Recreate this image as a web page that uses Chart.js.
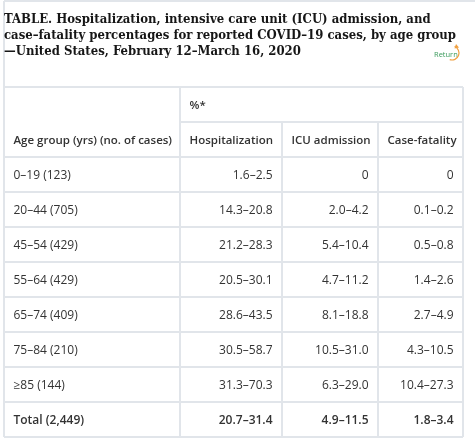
<!DOCTYPE html>
<html>
<head>
<meta charset="utf-8">
<script src="https://cdn.jsdelivr.net/npm/chart.js@4.4.1/dist/chart.umd.min.js"></script>
<style>
  html, body { margin: 0; padding: 0; background: #fff; }
  #wrap { width: 475px; height: 441px; position: relative; }
</style>
</head>
<body>
<div id="wrap"><canvas id="table-chart"></canvas></div>
<script>
const titleLines = [
  "TABLE. Hospitalization, intensive care unit (ICU) admission, and",
  "case\u2013fatality percentages for reported COVID\u201319 cases, by age group",
  "\u2014United States, February 12\u2013March 16, 2020",
];
const groupHeader = "%*";
const firstHeader = "Age group (yrs) (no. of cases)";
const columnHeaders = ["Hospitalization", "ICU admission", "Case-fatality"];

const ageGroups = [
  "0\u201319 (123)",
  "20\u201344 (705)",
  "45\u201354 (429)",
  "55\u201364 (429)",
  "65\u201374 (409)",
  "75\u201384 (210)",
  "\u226585 (144)",
];
const hospitalization = ["1.6\u20132.5", "14.3\u201320.8", "21.2\u201328.3", "20.5\u201330.1", "28.6\u201343.5", "30.5\u201358.7", "31.3\u201370.3"];
const icuAdmission = ["0", "2.0\u20134.2", "5.4\u201310.4", "4.7\u201311.2", "8.1\u201318.8", "10.5\u201331.0", "6.3\u201329.0"];
const caseFatality = ["0", "0.1\u20130.2", "0.5\u20130.8", "1.4\u20132.6", "2.7\u20134.9", "4.3\u201310.5", "10.4\u201327.3"];

const totalLabel = "Total (2,449)";
const totalValues = ["20.7\u201331.4", "4.9\u201311.5", "1.8\u20133.4"];

// column widths in table units (x scale runs over their sum)
const colWidths = [176, 102, 96, 85];
const colEdges = colWidths.reduce((acc, w) => acc.concat(acc[acc.length - 1] + w), [0]);

const lineColor = "#e1e5ea";
const textColor = "#333";
const sans = "'Open Sans', sans-serif";

const tablePlugin = {
  id: "tableCells",
  beforeDraw(chart) {
    const ctx = chart.ctx;
    const x = chart.scales.x;
    const y = chart.scales.y;
    ctx.save();
    ctx.strokeStyle = lineColor;
    ctx.lineWidth = 2;
    // outer frame (top + left)
    ctx.beginPath();
    ctx.moveTo(x.getPixelForValue(0), 1);
    ctx.lineTo(chart.width, 1);
    ctx.moveTo(x.getPixelForValue(0), 1);
    ctx.lineTo(x.getPixelForValue(0), y.getPixelForValue(8));
    ctx.stroke();

    ctx.beginPath();
    // horizontal lines
    for (let r = -2; r <= 8; r++) {
      const start = r === -1 ? colEdges[1] : colEdges[0];
      ctx.moveTo(x.getPixelForValue(start), y.getPixelForValue(r));
      ctx.lineTo(x.getPixelForValue(colEdges[4]), y.getPixelForValue(r));
    }
    // vertical lines
    colEdges.forEach((e, i) => {
      const top = (i === 2 || i === 3) ? -1 : -2;
      ctx.moveTo(x.getPixelForValue(e), y.getPixelForValue(top));
      ctx.lineTo(x.getPixelForValue(e), y.getPixelForValue(8));
    });
    ctx.stroke();
    ctx.restore();
  },
  afterDraw(chart) {
    const ctx = chart.ctx;
    const x = chart.scales.x;
    const y = chart.scales.y;
    const pad = 9.5;
    const mid = (r) => (y.getPixelForValue(r) + y.getPixelForValue(r + 1)) / 2 + 1.5;
    ctx.save();
    ctx.fillStyle = textColor;
    ctx.textBaseline = "middle";

    // header
    ctx.font = "600 11.5px " + sans;
    ctx.textAlign = "left";
    ctx.fillText(groupHeader, x.getPixelForValue(colEdges[1]) + pad, mid(-2));
    ctx.fillText(firstHeader, x.getPixelForValue(colEdges[0]) + pad, mid(-1));
    columnHeaders.forEach((h, i) => {
      ctx.fillText(h, x.getPixelForValue(colEdges[i + 1]) + pad, mid(-1));
    });

    // body rows
    const series = [hospitalization, icuAdmission, caseFatality];
    ctx.font = "400 12px " + sans;
    ageGroups.forEach((g, r) => {
      ctx.textAlign = "left";
      ctx.fillText(g, x.getPixelForValue(colEdges[0]) + pad, mid(r));
      ctx.textAlign = "right";
      series.forEach((s, c) => {
        ctx.fillText(s[r], x.getPixelForValue(colEdges[c + 2]) - pad, mid(r));
      });
    });

    // total row
    const tr = ageGroups.length;
    ctx.font = "600 12px " + sans;
    ctx.textAlign = "left";
    ctx.fillText(totalLabel, x.getPixelForValue(colEdges[0]) + pad, mid(tr));
    ctx.textAlign = "right";
    totalValues.forEach((v, c) => {
      ctx.fillText(v, x.getPixelForValue(colEdges[c + 2]) - pad, mid(tr));
    });

    // "Return" link icon
    ctx.font = "400 7.5px " + sans;
    ctx.textAlign = "left";
    ctx.fillStyle = "#3a9a5b";
    ctx.fillText("Return", 434, 55);
    ctx.strokeStyle = "#f0a040";
    ctx.lineWidth = 1.2;
    ctx.beginPath();
    ctx.arc(452, 53, 7, -1.2, 1.9);
    ctx.stroke();
    ctx.fillStyle = "#f0a040";
    ctx.beginPath();
    ctx.moveTo(456, 44);
    ctx.lineTo(459, 47.5);
    ctx.lineTo(454.5, 48.5);
    ctx.closePath();
    ctx.fill();
    ctx.restore();
  },
};

new Chart(document.getElementById("table-chart"), {
  type: "scatter",
  data: { datasets: [] },
  options: {
    responsive: true,
    maintainAspectRatio: false,
    animation: false,
    events: [],
    layout: { padding: { left: 4, right: 12, top: 0, bottom: 4 } },
    scales: {
      x: { type: "linear", min: 0, max: colEdges[colEdges.length - 1], display: false },
      y: { type: "linear", min: -2, max: 8, reverse: true, display: false },
    },
    plugins: {
      legend: { display: false },
      tooltip: { enabled: false },
      title: {
        display: true,
        align: "start",
        text: titleLines,
        color: "#161616",
        font: { family: "'DejaVu Serif Condensed', 'DejaVu Serif', serif", size: 13, weight: "bold", lineHeight: 1.23 },
        padding: { top: 12, bottom: 27 },
      },
    },
  },
  plugins: [tablePlugin],
});
</script>
</body>
</html>
